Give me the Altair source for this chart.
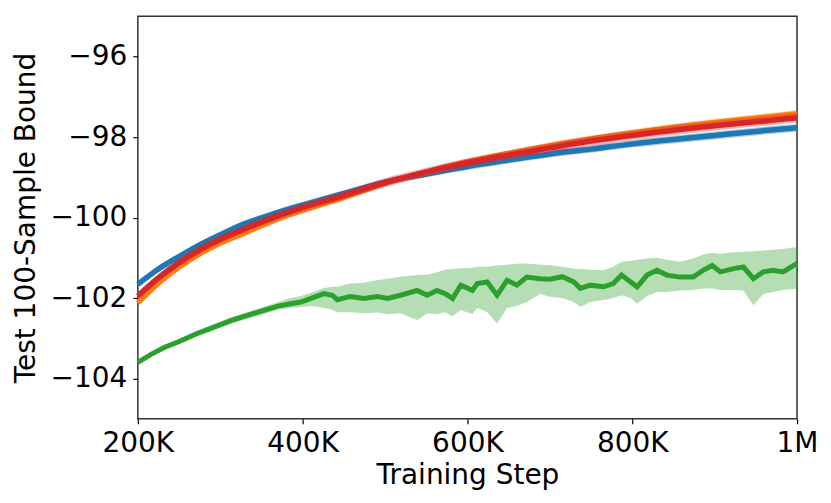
import altair as alt
import pandas as pd

# ---- data ----
steps_top = [200000, 225000, 250000, 275000, 300000, 325000, 350000, 375000,
             400000, 450000, 500000, 550000, 600000, 650000, 700000, 750000,
             800000, 850000, 900000, 950000, 1000000]

blue = [-101.66, -101.28, -100.97, -100.68, -100.43, -100.19, -100.01, -99.84,
        -99.69, -99.40, -99.12, -98.92, -98.73, -98.57, -98.42, -98.30,
        -98.17, -98.06, -97.96, -97.86, -97.77]
orange = [-102.12, -101.63, -101.23, -100.90, -100.63, -100.42, -100.20, -99.99,
          -99.82, -99.50, -99.15, -98.87, -98.62, -98.41, -98.22, -98.05,
          -97.90, -97.76, -97.64, -97.53, -97.42]
red = [-101.95, -101.50, -101.12, -100.80, -100.54, -100.32, -100.11, -99.92,
       -99.75, -99.45, -99.13, -98.87, -98.64, -98.45, -98.27, -98.10,
       -97.96, -97.83, -97.72, -97.62, -97.52]
blue_band = [0.08, 0.08, 0.08, 0.08, 0.08, 0.08, 0.08, 0.08, 0.08, 0.08, 0.08,
             0.08, 0.09, 0.09, 0.09, 0.09, 0.09, 0.10, 0.10, 0.10, 0.10]
orange_band = [0.08, 0.08, 0.08, 0.08, 0.08, 0.08, 0.08, 0.08, 0.08, 0.08, 0.08,
               0.08, 0.08, 0.08, 0.09, 0.09, 0.09, 0.09, 0.09, 0.09, 0.09]
red_band = [0.10, 0.10, 0.10, 0.10, 0.10, 0.10, 0.10, 0.10, 0.10, 0.10, 0.11,
            0.11, 0.11, 0.11, 0.12, 0.12, 0.12, 0.12, 0.12, 0.12, 0.12]

steps_green = [200000, 216000, 232000, 250000, 272000, 290000, 313000, 330000,
               352000, 370000, 385000, 398000, 410000, 426000, 436000, 442000,
               458000, 474000, 491000, 503000, 519000, 539000, 551000, 563000,
               573000, 582000, 592000, 606000, 612000, 624000, 636000, 648000,
               660000, 672000, 688000, 700000, 715000, 729000, 737000, 749000,
               765000, 777000, 787000, 798000, 806000, 818000, 830000, 842000,
               858000, 874000, 886000, 897000, 907000, 923000, 935000, 947000,
               959000, 971000, 983000, 1000000]
green = [-103.60, -103.40, -103.23, -103.08, -102.88, -102.74, -102.56, -102.45,
         -102.31, -102.20, -102.14, -102.10, -102.01, -101.89, -101.93, -102.04,
         -101.96, -102.01, -101.96, -102.01, -101.93, -101.81, -101.93, -101.81,
         -101.89, -102.01, -101.68, -101.81, -101.64, -101.60, -101.93, -101.56,
         -101.68, -101.48, -101.52, -101.53, -101.47, -101.60, -101.76, -101.68,
         -101.72, -101.64, -101.43, -101.60, -101.72, -101.43, -101.31, -101.43,
         -101.48, -101.48, -101.31, -101.19, -101.35, -101.27, -101.23, -101.52,
         -101.35, -101.31, -101.35, -101.14]
green_hi = [-103.55, -103.35, -103.17, -103.02, -102.81, -102.67, -102.48, -102.37,
            -102.22, -102.10, -102.00, -101.95, -101.87, -101.75, -101.72, -101.72,
            -101.64, -101.62, -101.55, -101.52, -101.47, -101.43, -101.42, -101.36,
            -101.30, -101.28, -101.26, -101.25, -101.22, -101.22, -101.19, -101.17,
            -101.15, -101.14, -101.17, -101.18, -101.22, -101.27, -101.28, -101.30,
            -101.31, -101.22, -101.10, -101.08, -101.05, -101.02, -101.00, -101.05,
            -101.10, -101.02, -100.92, -100.88, -100.90, -100.86, -100.85, -100.84,
            -100.82, -100.80, -100.78, -100.73]
green_lo = [-103.65, -103.45, -103.29, -103.14, -102.95, -102.81, -102.64, -102.53,
            -102.40, -102.29, -102.25, -102.22, -102.20, -102.25, -102.30, -102.35,
            -102.35, -102.38, -102.36, -102.40, -102.38, -102.55, -102.38, -102.40,
            -102.35, -102.45, -102.30, -102.40, -102.25, -102.35, -102.63, -102.25,
            -102.20, -102.10, -101.90, -101.97, -102.00, -102.10, -102.22, -102.10,
            -102.05, -102.00, -101.93, -102.00, -102.14, -101.95, -101.85, -101.85,
            -101.81, -101.80, -101.76, -101.76, -101.80, -101.80, -101.81, -102.18,
            -101.90, -101.85, -101.80, -101.76]

x_ticks = [200000, 400000, 600000, 800000, 1000000]
y_ticks = [-104, -102, -100, -98, -96]

FONT = "DejaVu Sans"

x_enc = alt.X(
    "step:Q",
    scale=alt.Scale(domain=[200000, 1000000], nice=False, zero=False),
    axis=alt.Axis(
        values=x_ticks,
        labelExpr="datum.value >= 1000000 ? '1M' : (datum.value / 1000) + 'K'",
        title="Training Step",
        grid=False, domain=False, labelFlush=False, labelOverlap=False,
        tickSize=5, tickColor="#000", tickWidth=1.2,
        labelFontSize=28, titleFontSize=28, labelFont=FONT, titleFont=FONT,
        labelColor="#000", titleColor="#000", titleFontWeight="normal",
        labelPadding=6, titlePadding=4,
    ),
)
y_axis = alt.Axis(
    values=y_ticks, format="d", title="Test 100-Sample Bound",
    grid=False, domain=False, labelOverlap=False, labelFlush=False,
    tickSize=5, tickColor="#000", tickWidth=1.2,
    labelFontSize=28, titleFontSize=28, labelFont=FONT, titleFont=FONT,
    labelColor="#000", titleColor="#000", titleFontWeight="normal",
    labelPadding=6, titlePadding=10,
)
y_scale = alt.Scale(domain=[-105, -95], nice=False, zero=False)


def series(df, color, interp, width):
    base = alt.Chart(df)
    band = base.mark_area(color=color, opacity=0.35, interpolate=interp).encode(
        x=x_enc, y=alt.Y("lo:Q", scale=y_scale, axis=y_axis), y2="hi:Q")
    line = base.mark_line(color=color, strokeWidth=width, interpolate=interp).encode(
        x=x_enc, y=alt.Y("value:Q", scale=y_scale, axis=y_axis))
    return [band, line]


def sym(xs, ys, band):
    return pd.DataFrame({
        "step": xs, "value": ys,
        "lo": [v - b for v, b in zip(ys, band)],
        "hi": [v + b for v, b in zip(ys, band)],
    })


green_df = pd.DataFrame({"step": steps_green, "value": green,
                         "lo": green_lo, "hi": green_hi})

layers = []
layers += series(sym(steps_top, blue, blue_band), "#1f77b4", "monotone", 5.5)
layers += series(sym(steps_top, orange, orange_band), "#ff7f0e", "monotone", 5.5)
layers += series(green_df, "#2ca02c", "linear", 5)
layers += series(sym(steps_top, red, red_band), "#d62728", "monotone", 5.5)

chart = alt.layer(*layers).properties(
    width=660, height=403,
    padding={"left": 4, "top": 8, "right": 5, "bottom": 5},
).configure_view(stroke="#333", strokeWidth=1.5)

chart.save("out.html", embed_options={"renderer": "svg", "actions": False})
